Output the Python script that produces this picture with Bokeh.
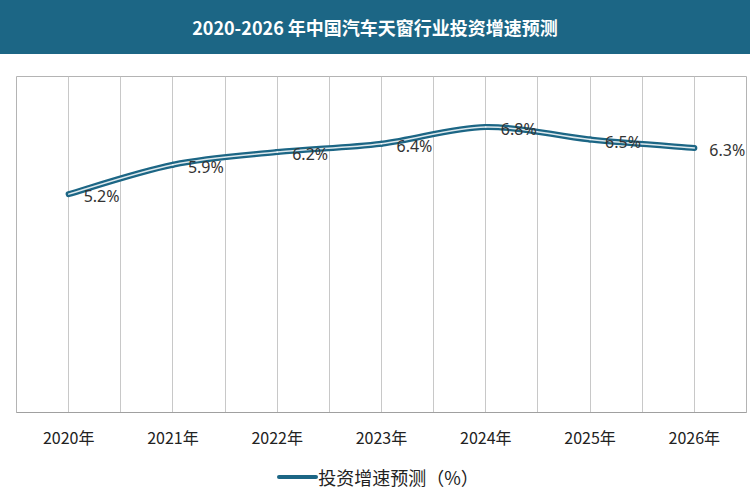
from bokeh.plotting import figure
from bokeh.models import Range1d, FixedTicker, Div, ColumnDataSource
from bokeh.layouts import column
from bokeh.core.properties import value
from bokeh.embed import file_html
from bokeh.resources import INLINE

title_text = "2020-2026 年中国汽车天窗行业投资增速预测"
years = ["2020年", "2021年", "2022年", "2023年", "2024年", "2025年", "2026年"]
growth = [5.2, 5.9, 6.2, 6.4, 6.8, 6.5, 6.3]
series_name = "投资增速预测（%）"

DARK = "#1c6685"
FONT = "Noto Sans CJK SC"

xs = list(range(len(years)))
n = len(xs)

# smooth (Catmull-Rom style) bezier control points from the data points
x0, y0, x1, y1, cx0, cy0, cx1, cy1 = [], [], [], [], [], [], [], []
for i in range(n - 1):
    pm = i - 1 if i > 0 else i
    pp = i + 2 if i + 2 < n else i + 1
    x0.append(xs[i]); y0.append(growth[i])
    x1.append(xs[i + 1]); y1.append(growth[i + 1])
    cx0.append(xs[i] + (xs[i + 1] - xs[pm]) / 6)
    cy0.append(growth[i] + (growth[i + 1] - growth[pm]) / 6)
    cx1.append(xs[i + 1] - (xs[pp] - xs[i]) / 6)
    cy1.append(growth[i + 1] - (growth[pp] - growth[i]) / 6)
bez = ColumnDataSource(dict(x0=x0, y0=y0, x1=x1, y1=y1, cx0=cx0, cy0=cy0, cx1=cx1, cy1=cy1))

header = Div(
    text=title_text,
    width=750, height=54, margin=(0, 0, 0, 0),
    styles={"background-color": DARK, "color": "white", "font-weight": "bold",
            "font-size": "18px", "font-family": FONT, "text-align": "center",
            "line-height": "54px", "width": "750px", "height": "54px"},
)

p = figure(width=750, height=410, output_backend="svg", toolbar_location=None,
           x_range=Range1d(-0.5, n - 0.5), y_range=Range1d(0, 8),
           y_axis_location=None, margin=(0, 0, 0, 0),
           min_border_left=16, min_border_right=4, min_border_top=22, min_border_bottom=52)
p.background_fill_color = "white"
p.border_fill_color = "white"
p.outline_line_color = "#b4b4b4"
p.outline_line_width = 1

p.ygrid.visible = False
p.xgrid.ticker = FixedTicker(ticks=[i / 2 - 0.5 for i in range(2 * n + 1)])
p.xgrid.grid_line_color = "#c8c8c8"
p.xgrid.grid_line_width = 1

ax = p.xaxis[0]
ax.ticker = FixedTicker(ticks=xs)
ax.major_label_overrides = {i: years[i] for i in xs}
ax.axis_line_color = "#a0a0a0"
ax.major_tick_line_color = None
ax.minor_tick_line_color = None
ax.major_label_standoff = 6
ax.major_label_text_font = FONT
ax.major_label_text_font_size = "16px"
ax.major_label_text_color = "#222222"

p.bezier(x0="x0", y0="y0", x1="x1", y1="y1", cx0="cx0", cy0="cy0",
         cx1="cx1", cy1="cy1", source=bez, line_color=DARK, line_width=6,
         line_cap="round", line_join="round")
p.bezier(x0="x0", y0="y0", x1="x1", y1="y1", cx0="cx0", cy0="cy0",
         cx1="cx1", cy1="cy1", source=bez, line_color="white", line_width=1.5,
         line_alpha=0.85, line_cap="round")

labels = ColumnDataSource(dict(x=xs, y=growth, t=[f"{v:.1f}%" for v in growth]))
p.text(x="x", y="y", text="t", source=labels, x_offset=15, y_offset=2,
       text_align="left", text_baseline="middle", text_font=value("Noto Sans"),
       text_font_size="16px", text_color="#333333")

legend_html = (
    '<span style="display:inline-block;width:41px;height:2px;background:#ffffff;'
    f'border-top:2px solid {DARK};border-bottom:2px solid {DARK};border-left:1px solid {DARK};'
    f'border-radius:3px;vertical-align:middle;margin-right:0px"></span>'
    f'<span style="vertical-align:middle">{series_name}</span>'
)
legend_div = Div(
    text=legend_html, width=750, height=33, margin=(0, 0, 0, 0),
    styles={"font-family": FONT, "font-size": "18px", "color": "#222222",
            "text-align": "center", "line-height": "20px", "width": "750px",
            "height": "33px", "padding-left": "6px", "box-sizing": "border-box"},
)

layout = column(header, p, legend_div, spacing=0)
open("out.html", "w").write(file_html(layout, INLINE))
